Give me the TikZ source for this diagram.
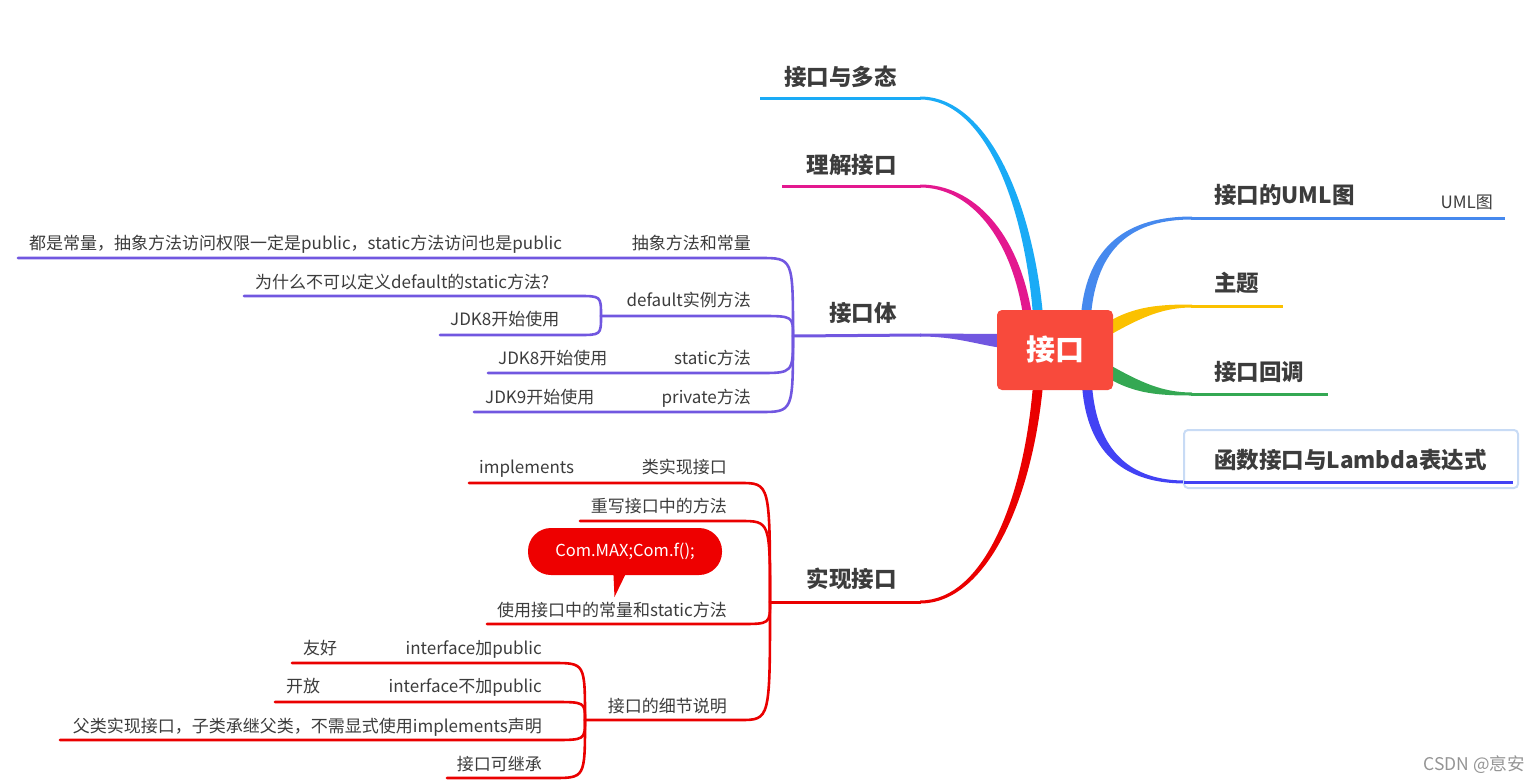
\documentclass[tikz,border=0pt]{standalone}
\usepackage{fontspec}
\setmainfont{Noto Sans CJK SC}
\definecolor{cyanB}{HTML}{1AABF6}
\definecolor{magB}{HTML}{E3188F}
\definecolor{purB}{HTML}{7157E0}
\definecolor{redB}{HTML}{EA0000}
\definecolor{blueB}{HTML}{4689EE}
\definecolor{yelB}{HTML}{FBC100}
\definecolor{greB}{HTML}{34A853}
\definecolor{indB}{HTML}{4242F4}
\definecolor{rootR}{HTML}{F84A3C}
\definecolor{noteR}{HTML}{EE0000}
\definecolor{selB}{HTML}{C8DBF5}
\definecolor{txt}{HTML}{3C3C3C}
\tikzset{
  lbl/.style={inner sep=0pt, font=\fontsize{17}{20}\selectfont, text=txt},
  ttl/.style={inner sep=0pt, font=\fontsize{22.5}{26}\selectfont\bfseries, text=txt},
  subline/.style={line width=2.6pt, line cap=round},
  mainline/.style={line width=3pt},
}
\begin{document}
\begin{tikzpicture}[x=1pt,y=-1pt]
\useasboundingbox (0,0) rectangle (1540,782);

% ---------- tapered main branches ----------
\fill[cyanB] (920,96.5) .. controls (986,96.5) and (1032,198) .. (1043,315) -- (1033,315) .. controls (1024,202) and (984,99.5) .. (920,99.5) -- cycle;
\fill[magB] (920,184.5) .. controls (974,184.5) and (1019,233) .. (1032,315) -- (1023,315) .. controls (1011,237) and (970,187.5) .. (920,187.5) -- cycle;
\fill[purB] (920,333.5) .. controls (955,333.5) and (975,334) .. (1002,334) -- (1002,348) .. controls (975,344) and (955,336.5) .. (920,336.5) -- cycle;
\fill[redB] (920,603.5) .. controls (986,603.5) and (1032,502) .. (1043,385) -- (1033,385) .. controls (1024,498) and (984,600.5) .. (920,600.5) -- cycle;
\fill[blueB] (1081,315) .. controls (1087,245) and (1128,216.5) .. (1192,216.5) -- (1192,219.5) .. controls (1132,219.5) and (1097,247) .. (1091,315) -- cycle;
\fill[indB] (1082,385) .. controls (1087,457) and (1128,483.5) .. (1185,483.5) -- (1185,480.5) .. controls (1132,480.5) and (1097,453) .. (1092,385) -- cycle;
\fill[yelB] (1108,322) .. controls (1135,306) and (1160,304.5) .. (1192,304.5) -- (1192,307.5) .. controls (1162,307.5) and (1140,318) .. (1108,336) -- cycle;
\fill[greB] (1108,378) .. controls (1135,394) and (1160,395.5) .. (1192,395.5) -- (1192,392.5) .. controls (1162,392.5) and (1140,382) .. (1108,364) -- cycle;

% ---------- junctions and line ends ----------
\coordinate (J1) at (793,336);
\coordinate (J2) at (601,316);
\coordinate (J) at (770,602);
\coordinate (J3) at (585,720);

% main horizontal lines
\draw[mainline, cyanB] (760,98) coordinate (t1L) -- (921,98) coordinate (t1R);
\draw[mainline, magB] (782,186) coordinate (t2L) -- (921,186) coordinate (t2R);
\draw[mainline, purB] (J1) -- (921,335) coordinate (t3R);
\draw[mainline, redB] (J) -- (921,602) coordinate (t4R);
\draw[mainline, blueB] (1191,218) coordinate (r1L) -- (1505,218) coordinate (r1R);
\draw[mainline, yelB] (1191,306) coordinate (r2L) -- (1283,306) coordinate (r2R);
\draw[mainline, greB] (1191,394) coordinate (r3L) -- (1328,394) coordinate (r3R);
\draw[selB, line width=2pt, rounded corners=4pt] (1184,430) rectangle (1518,488);
\draw[mainline, indB] (1184,482) coordinate (r4L) -- (1513,482) coordinate (r4R);

% purple subtree
\begin{scope}[purB, subline]
\draw (18,258) coordinate (abL) -- (760,258) coordinate (abR) .. controls (793,258) .. (J1);
\draw (J2) -- (760,316) coordinate (dfR) .. controls (793,316) .. (J1);
\draw (488,373) coordinate (stL) -- (760,373) coordinate (stR) .. controls (793,373) .. (J1);
\draw (474,412) coordinate (pvL) -- (760,412) coordinate (pvR) .. controls (793,412) .. (J1);
\draw (244,296) coordinate (dqL) -- (578,296) coordinate (dqR) .. controls (601,296) .. (J2);
\draw (440,335) coordinate (djL) -- (578,335) coordinate (djR) .. controls (601,335) .. (J2);
\end{scope}

% red subtree
\begin{scope}[redB, subline]
\draw (469,483) coordinate (clL) -- (740,483) coordinate (clR) .. controls (770,483) .. (J);
\draw (580,521) coordinate (owL) -- (740,521) coordinate (owR) .. controls (770,521) .. (J);
\draw (487,624) coordinate (usL) -- (740,624) coordinate (usR) .. controls (770,624) .. (J);
\draw (J3) -- (740,720) coordinate (deR) .. controls (770,720) .. (J);
\draw (292,663) coordinate (ipL) -- (553,663) coordinate (ipR) .. controls (585,663) .. (J3);
\draw (275,702) coordinate (inL) -- (553,702) coordinate (inR) .. controls (585,702) .. (J3);
\draw (60,740) coordinate (faL) -- (553,740) coordinate (faR) .. controls (585,740) .. (J3);
\draw (447,778) coordinate (ihL) -- (553,778) coordinate (ihR) .. controls (585,778) .. (J3);
\end{scope}

% ---------- root ----------
\node[fill=rootR, rounded corners=5pt, minimum width=116pt, minimum height=80pt, inner sep=0pt,
      text=white, font=\fontsize{29}{32}\selectfont\bfseries] (root) at (1055,350) {接口};

% ---------- titles ----------
\node[ttl, anchor=base east] (t1) at (897,85) {接口与多态};
\node[ttl, anchor=base east] (t2) at (897,173.5) {理解接口};
\node[ttl, anchor=base east] (t3) at (897,321.5) {接口体};
\node[ttl, anchor=base east] (t4) at (897,587.5) {实现接口};
\node[ttl, anchor=base west] (r1) at (1214,203.5) {接口的UML图};
\node[lbl, anchor=base east] (r1c) at (1493,208.5) {UML图};
\node[ttl, anchor=base west] (r2) at (1214,291.5) {主题};
\node[ttl, anchor=base west] (r3) at (1214,380.5) {接口回调};
\node[ttl, anchor=base west] (r4) at (1214,468.5) {函数接口与Lambda表达式};

% ---------- purple labels ----------
\node[lbl, anchor=base east] (ab) at (751,249.5) {抽象方法和常量};
\node[lbl, anchor=base west] (abc) at (29,249.5) {都是常量，抽象方法访问权限一定是public，static方法访问也是public};
\node[lbl, anchor=base east] (df) at (751,306.5) {default实例方法};
\node[lbl, anchor=base west] (dfq) at (255,288.5) {为什么不可以定义default的static方法?};
\node[lbl, anchor=base west] (dfj) at (450,325) {JDK8开始使用};
\node[lbl, anchor=base east] (st) at (751,364.5) {static方法};
\node[lbl, anchor=base west] (stj) at (498,364.5) {JDK8开始使用};
\node[lbl, anchor=base east] (pv) at (751,403.5) {private方法};
\node[lbl, anchor=base west] (pvj) at (485,403.5) {JDK9开始使用};

% ---------- red labels ----------
\node[lbl, anchor=base east] (cl) at (727,473.5) {类实现接口};
\node[lbl, anchor=base west] (imp) at (479,473.5) {implements};
\node[lbl, anchor=base east] (ow) at (727,512.5) {重写接口中的方法};
\node[lbl, anchor=base east] (us) at (727,616) {使用接口中的常量和static方法};
\node[lbl, anchor=base east] (de) at (727,712.5) {接口的细节说明};
\node[lbl, anchor=base east] (ip) at (542,654.5) {interface加public};
\node[lbl, anchor=base west] (ipf) at (303,654.5) {友好};
\node[lbl, anchor=base east] (in) at (542,692.5) {interface不加public};
\node[lbl, anchor=base west] (ino) at (286,692.5) {开放};
\node[lbl, anchor=base east] (fa) at (542,732) {父类实现接口，子类承继父类，不需显式使用implements声明};
\node[lbl, anchor=base east] (ih) at (542,770) {接口可继承};

% ---------- callout ----------
\fill[noteR] (613,565) -- (614.5,597) -- (630,565) -- cycle;
\node[fill=noteR, rounded corners=23pt, minimum width=194pt, minimum height=47pt, inner sep=0pt,
      text=white, font=\fontsize{16.5}{20}\selectfont] (note) at (625,551.5) {Com.MAX;Com.f();};

% ---------- watermark ----------
\node[inner sep=0pt, anchor=base east, text=black!42, font=\fontsize{17.5}{20}\selectfont] (wm) at (1525,770.5) {CSDN @恴安};
\end{tikzpicture}
\end{document}
